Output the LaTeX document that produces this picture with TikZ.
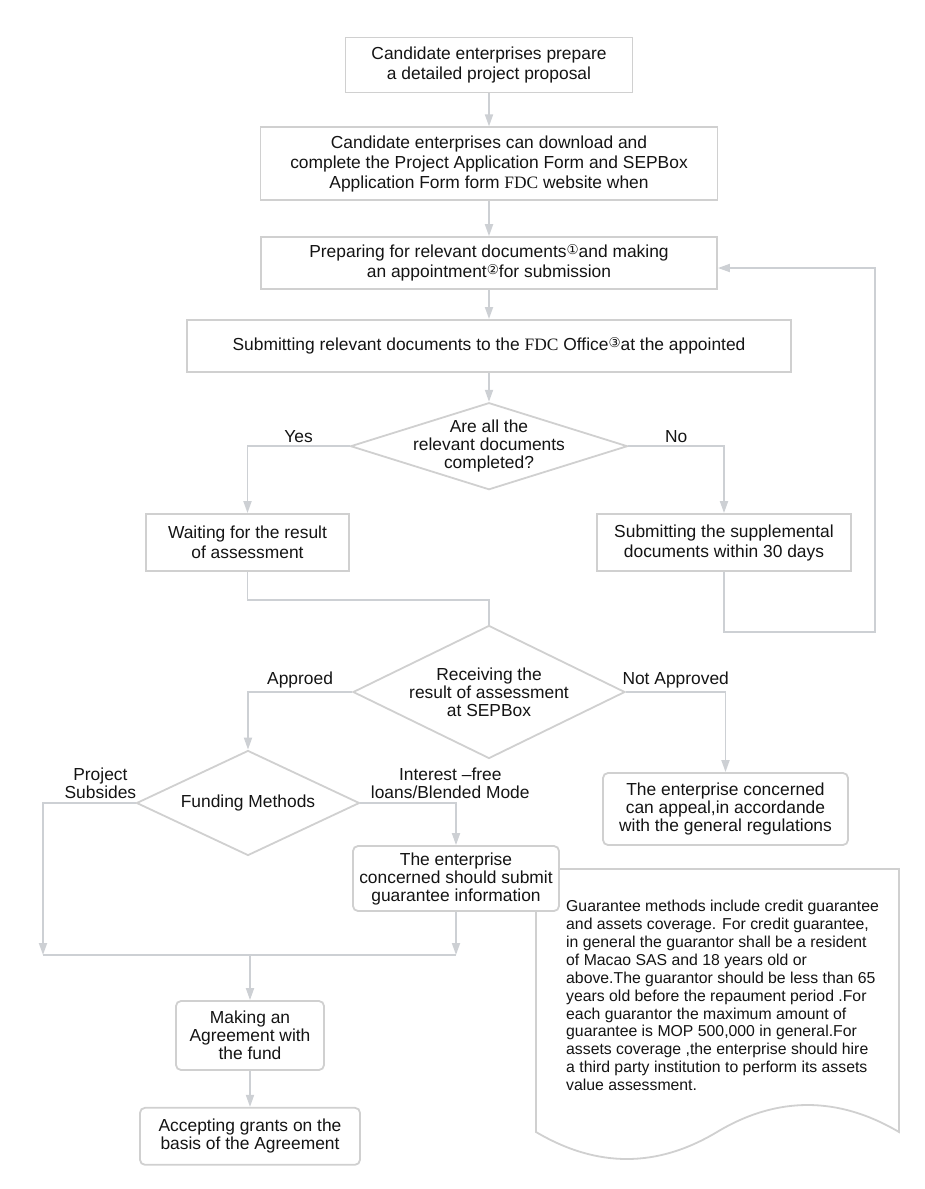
\documentclass[tikz,border=0pt]{standalone}
\usepackage{fontspec}
\setmainfont{Liberation Sans}
\newfontfamily\circfont{DejaVu Sans}
\newfontfamily\fdcfont{Liberation Serif}
\usepackage{tikz}
\usetikzlibrary{shapes.geometric, arrows.meta, positioning}

\definecolor{edgegray}{RGB}{205,208,212}
\definecolor{framegray}{RGB}{208,208,208}
\definecolor{inkblack}{RGB}{20,20,20}

\newcommand{\circmark}[1]{\raisebox{3pt}{\circfont\fontsize{13.5}{13.5}\selectfont #1}}
\newcommand{\fdc}{{\fdcfont FDC}}

\begin{document}
\begin{tikzpicture}[
    x=1pt, y=-1pt,
    every node/.style={text=inkblack, font=\fontsize{17.4}{18}\selectfont},
    process/.style={rectangle, draw=framegray, line width=1.8pt, fill=white, align=center, inner sep=2pt, font=\fontsize{17.4}{20}\selectfont},
    softbox/.style={process, rounded corners=5pt, font=\fontsize{17.4}{18}\selectfont},
    decision/.style={diamond, draw=framegray, line width=1.8pt, fill=white, inner sep=0pt},
    arrow/.style={draw=edgegray, line width=1.8pt, -{Triangle[width=8pt,length=12pt]}},
    link/.style={draw=edgegray, line width=1.8pt},
    tag/.style={align=center, inner sep=3pt}
]
\useasboundingbox (0,0) rectangle (924,1189);

% Main column
\node[process, minimum width=287pt, minimum height=55pt] (prepare) at (489,65) {Candidate enterprises prepare\\a detailed project proposal};
\node[process, minimum width=457pt, minimum height=73pt, below=33pt of prepare] (download) {Candidate enterprises can download and\\complete the Project Application Form and SEPBox\\Application Form form \fdc{} website when};
\node[process, minimum width=456pt, minimum height=52pt, below=35pt of download] (prep) {Preparing for relevant documents\circmark{①}and making\\an appointment\circmark{②}for submission};
\node[process, minimum width=604pt, minimum height=52pt, below=29pt of prep] (submit) {Submitting relevant documents to the \fdc{} Office\circmark{③}at the appointed};
\node[decision, minimum width=277pt, minimum height=87pt, below=29pt of submit, label={[align=center]center:{Are all the\\relevant documents\\completed?}}] (complete) {};

% Check branches
\node[process, minimum width=203pt, minimum height=57pt] (waiting) at (247.5,542.5) {Waiting for the result\\of assessment};
\node[process, minimum width=254pt, minimum height=57pt] (supplement) at (724,542.5) {Submitting the supplemental\\documents within 30 days};
\node[decision, minimum width=272pt, minimum height=133pt, label={[align=center]center:{Receiving the\\result of assessment\\at SEPBox}}] (receive) at (489,692) {};

% Result branches
\node[decision, minimum width=223pt, minimum height=105pt, label={center:{Funding Methods}}] (funding) at (248,803) {};
\node[softbox, minimum width=245pt, minimum height=72pt] (appeal) at (725.5,809) {The enterprise concerned\\can appeal,in accordande\\with the general regulations};

% Note on guarantees
\draw[draw=framegray, line width=1.8pt, fill=white] (536,869) -- (899,869) -- (899,1132)
  .. controls (838,1096) and (777,1096) .. (717,1132)
  .. controls (657,1168) and (597,1168) .. (536,1132) -- cycle;
\node[anchor=north west, align=left, inner sep=0pt, font=\fontsize{15.8}{17.9}\selectfont] (guidetext) at (566,900) {Guarantee methods include credit guarantee\\and assets coverage. For credit guarantee,\\in general the guarantor shall be a resident\\of Macao SAS and 18 years old or\\above.The guarantor should be less than 65\\years old before the repaument period .For\\each guarantor the maximum amount of\\guarantee is MOP 500,000 in general.For\\assets coverage ,the enterprise should hire\\a third party institution to perform its assets\\value assessment.};

\node[softbox, minimum width=206pt, minimum height=65pt] (guarantee) at (456,878.5) {The enterprise\\concerned should submit\\guarantee information};
\node[softbox, minimum width=148pt, minimum height=69pt] (agreement) at (250,1035.5) {Making an\\Agreement with\\the fund};
\node[softbox, minimum width=220pt, minimum height=57pt, below=36pt of agreement] (grants) {Accepting grants on the\\basis of the Agreement};

% Arrows
\draw[arrow] (prepare) -- (download);
\draw[arrow] (download) -- (prep);
\draw[arrow] (prep) -- (submit);
\draw[arrow] (submit) -- (complete);
\draw[arrow] (complete.west) -| node[pos=0.25, above, tag] {Yes} (waiting.north);
\draw[arrow] (complete.east) -| node[pos=0.25, above, tag] {No} (supplement.north);
\draw[link] (waiting.south) -- ++(0,28) -| (receive.north);
\coordinate (loopback) at (875,268);
\draw[arrow] (supplement.south) -- ++(0,60) -| (loopback) -- (prep.east |- loopback);
\draw[arrow] (receive.west) -| node[pos=0.25, above, tag] {Approed} (funding.north);
\draw[arrow] (receive.east) -| node[pos=0.25, above, tag] {Not Approved} (appeal.north);
\draw[arrow] (funding.east) -| node[pos=0.47, above, tag] {Interest –free\\loans/Blended Mode} (guarantee.north);
\coordinate (joinleft) at (43,955);
\draw[arrow] (funding.west) -| node[pos=0.19, above, tag] {Project\\Subsides} (joinleft);
\draw[arrow] (guarantee.south) -- (guarantee.south |- joinleft);
\draw[link] (joinleft) -- (guarantee.south |- joinleft);
\draw[arrow] (agreement.north |- joinleft) -- (agreement);
\draw[arrow] (agreement) -- (grants);

\end{tikzpicture}
\end{document}
